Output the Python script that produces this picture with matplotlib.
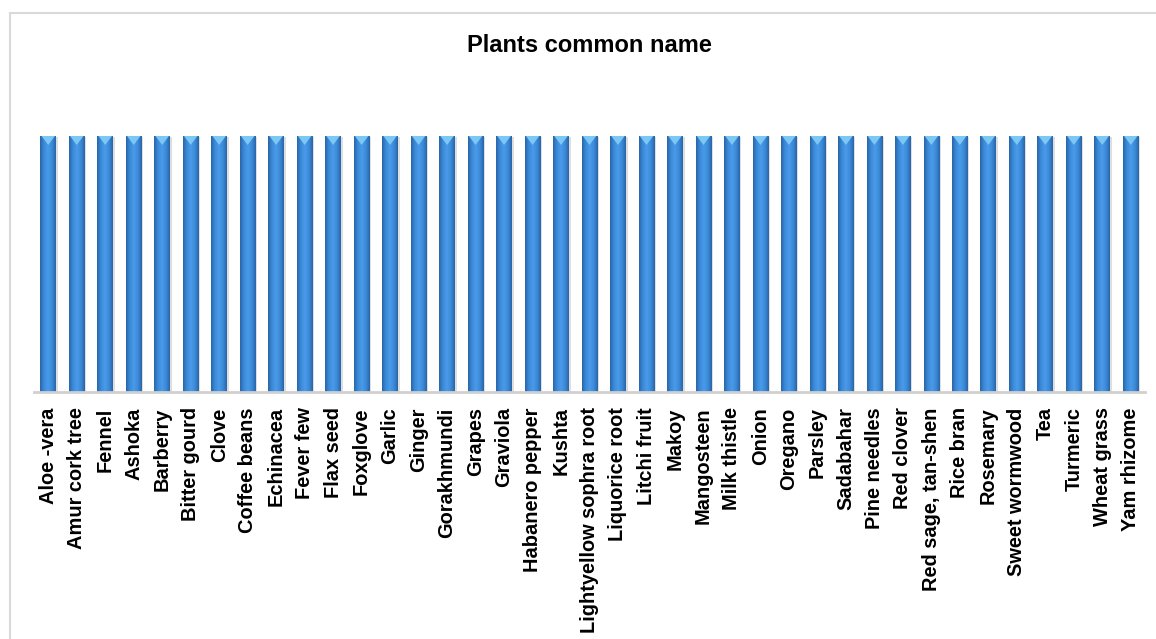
import numpy as np
import matplotlib
matplotlib.use("Agg")
import matplotlib.pyplot as plt
from matplotlib.colors import LinearSegmentedColormap
from matplotlib.patches import Rectangle, Polygon

# plant names along the x axis, every plant counted once
plants = [
    "Aloe -vera", "Amur cork tree", "Fennel", "Ashoka", "Barberry", "Bitter gourd",
    "Clove", "Coffee beans", "Echinacea", "Fever few", "Flax seed", "Foxglove",
    "Garlic", "Ginger", "Gorakhmundi", "Grapes", "Graviola", "Habanero pepper",
    "Kushta", "Lightyellow sophra root", "Liquorice root", "Litchi fruit", "Makoy",
    "Mangosteen", "Milk thistle", "Onion", "Oregano", "Parsley", "Sadabahar",
    "Pine needles", "Red clover", "Red sage, tan-shen", "Rice bran", "Rosemary",
    "Sweet wormwood", "Tea", "Turmeric", "Wheat grass", "Yam rhizome",
]
counts = [1] * len(plants)

plt.rcParams["font.family"] = ["Liberation Sans", "DejaVu Sans"]

fig = plt.figure(figsize=(11.56, 6.39), dpi=100)
fig.patches.append(Rectangle((10 / 1156, -0.1), 1.2, (639 - 13) / 639 + 0.1,
                             transform=fig.transFigure, fill=False,
                             ec="#D9D9D9", lw=1.5, clip_on=False))

ax = fig.add_axes([34 / 1156, (639 - 392) / 639, 1111 / 1156, 256 / 639])
x = np.arange(len(plants))
bars = ax.bar(x, counts, width=0.55, color="#3C8FE0", zorder=2)

# bevelled look: side-to-side shading, soft shadow and a light cap on each bar
shade = LinearSegmentedColormap.from_list(
    "bevel", ["#2A66A8", "#3B8BDA", "#4A9BE8", "#3B8BDA", "#2A66A8"])
grad = np.linspace(0, 1, 64).reshape(1, -1)
for b in bars:
    x0, y0 = b.get_x(), b.get_y()
    w, h = b.get_width(), b.get_height()
    ax.add_patch(Rectangle((x0 + 0.06, y0), w, h - 0.005, color="#C8C8C8",
                           alpha=0.6, zorder=1, lw=0))
    im = ax.imshow(grad, cmap=shade, aspect="auto", extent=(x0, x0 + w, y0, y0 + h),
                   zorder=3)
    im.set_clip_path(b)
    cap = Polygon([(x0 + 0.04, y0 + h), (x0 + w - 0.04, y0 + h),
                   (x0 + w / 2, y0 + h - 0.035)], closed=True,
                  color="#7CC8F5", zorder=4, lw=0)
    ax.add_patch(cap)

ax.set_xlim(-0.5, len(plants) - 0.5)
ax.set_ylim(0, 1)
ax.set_xticks(x)
ax.set_xticklabels(plants, rotation=90, fontsize=14.4, fontweight="bold")
ax.tick_params(axis="x", length=0, pad=11)
ax.set_yticks([])
for side in ("top", "right", "left"):
    ax.spines[side].set_visible(False)
ax.spines["bottom"].set_color("#D0D0D0")
ax.spines["bottom"].set_linewidth(2)
ax.spines["bottom"].set_zorder(5)

fig.text(589 / 1156, 1 - 46 / 639, "Plants common name", ha="center", va="center",
         fontsize=17, fontweight="bold")

fig.savefig("out.png", dpi=100)
